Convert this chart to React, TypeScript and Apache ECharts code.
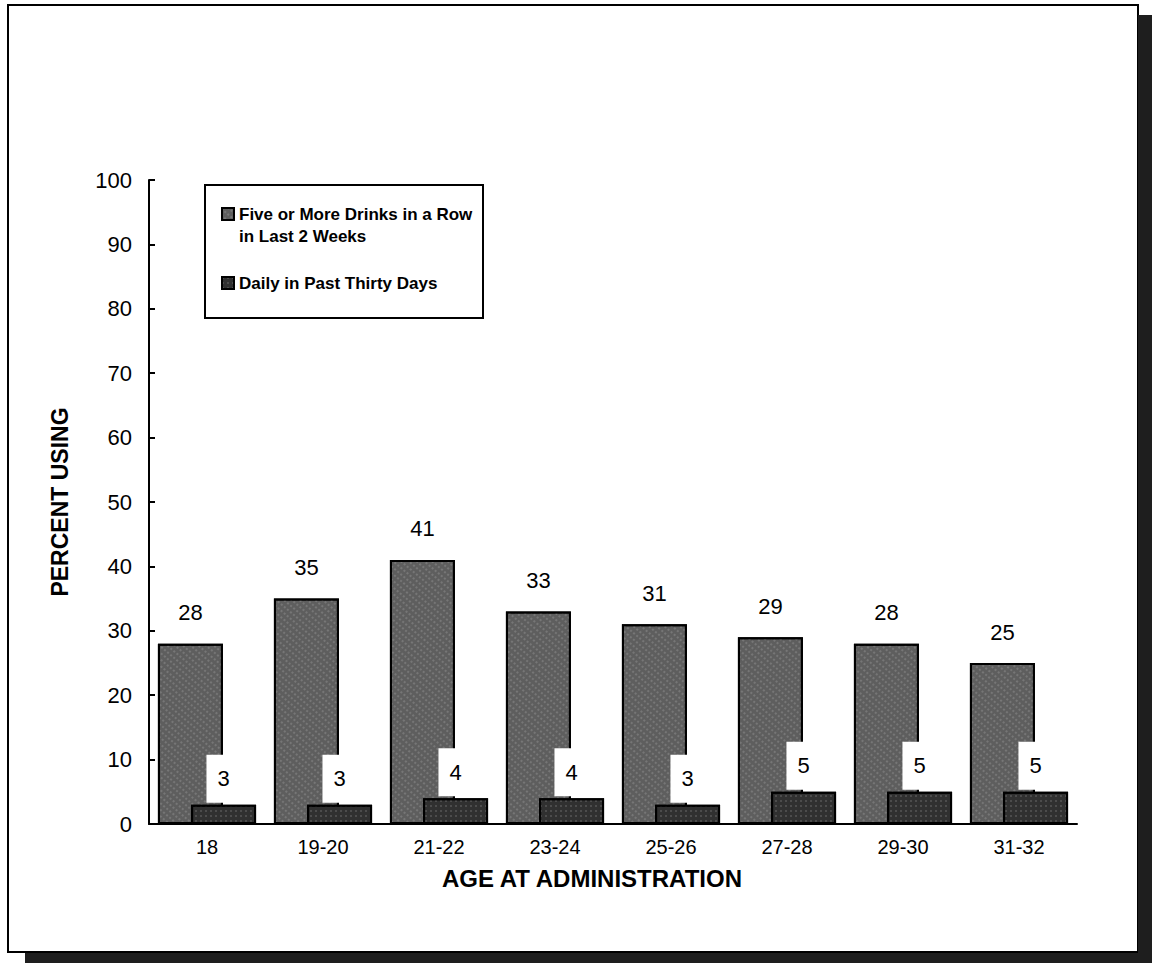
import React, { useEffect, useRef } from "react";
import * as echarts from "echarts";

const categories = ["18", "19-20", "21-22", "23-24", "25-26", "27-28", "29-30", "31-32"];
const fiveOrMore = [28, 35, 41, 33, 31, 29, 28, 25];
const dailyUse = [3, 3, 4, 4, 3, 5, 5, 5];
const seriesNames = ["Five or More Drinks in a Row", "Daily in Past Thirty Days"];
const legendContinuation = "in Last 2 Weeks";
const yTicks = { min: 0, max: 100, interval: 10 };

export default function App() {
  const ref = useRef<HTMLDivElement>(null);
  useEffect(() => {
    if (!ref.current) return;
    const chart = echarts.init(ref.current, null, { renderer: "svg" });
    const font = "Arial, 'Liberation Sans', sans-serif";
    chart.setOption({
      animation: false,
      backgroundColor: "#ffffff",
      textStyle: { fontFamily: font, color: "#000" },
      grid: { left: 149, right: 75, top: 180, bottom: 139, containLabel: false },
      legend: {
        left: 216,
        top: 198,
        orient: "vertical",
        itemWidth: 12,
        itemHeight: 12,
        itemGap: 47,
        icon: "rect",
        textStyle: { fontFamily: font, fontWeight: "bold", fontSize: 17, color: "#000", lineHeight: 22 },
        data: seriesNames,
      },
      xAxis: {
        type: "category",
        data: categories,
        axisLine: { lineStyle: { color: "#000", width: 2 } },
        axisTick: { show: false },
        axisLabel: {
          color: "#000",
          fontSize: 20,
          fontFamily: font,
          margin: 13,
        },
      },
      yAxis: {
        type: "value",
        min: yTicks.min,
        max: yTicks.max,
        interval: yTicks.interval,
        name: "PERCENT USING",
        nameLocation: "middle",
        nameGap: 78,
        nameTextStyle: { fontFamily: font, fontWeight: "bold", fontSize: 23, color: "#000" },
        axisLine: { show: true, lineStyle: { color: "#000", width: 2 } },
        axisTick: { show: true, inside: true, length: 6, lineStyle: { color: "#000", width: 2 } },
        splitLine: { show: false },
        axisLabel: { color: "#000", fontSize: 22, fontFamily: font, margin: 17 },
      },
      series: [
        {
          name: seriesNames[0],
          type: "bar",
          data: fiveOrMore,
          barWidth: 65,
          barGap: "-49%",
          itemStyle: {
            color: "#5e5e5e",
            borderColor: "#000",
            borderWidth: 2,
            decal: {
              symbol: "rect",
              symbolSize: 0.6,
              color: "rgba(255,255,255,0.5)",
              dashArrayX: [2, 2],
              dashArrayY: [2, 3],
              rotation: 0.7,
            },
          },
          label: {
            show: true,
            position: "top",
            distance: 20,
            fontSize: 22,
            fontFamily: font,
            color: "#000",
          },
        },
        {
          name: seriesNames[1],
          type: "bar",
          data: dailyUse,
          barWidth: 65,
          itemStyle: {
            color: "#303030",
            borderColor: "#000",
            borderWidth: 2,
            decal: {
              symbol: "rect",
              symbolSize: 0.6,
              color: "rgba(255,255,255,0.45)",
              dashArrayX: [2, 3],
              dashArrayY: [2, 3],
              rotation: 0,
            },
          },
          label: {
            show: true,
            position: "top",
            distance: 2,
            fontSize: 22,
            fontFamily: font,
            color: "#000",
            backgroundColor: "#ffffff",
            padding: [13, 11, 13, 11],
          },
        },
      ],
      graphic: [
        { type: "rect", shape: { x: 8, y: 5, width: 1130, height: 947 }, style: { fill: "none", stroke: "#000", lineWidth: 2 }, z: 10 },
        { type: "rect", shape: { x: 1138, y: 15, width: 14, height: 948 }, style: { fill: "#1e1e1e" }, z: 10 },
        { type: "rect", shape: { x: 25, y: 953, width: 1127, height: 10 }, style: { fill: "#1e1e1e" }, z: 10 },
        { type: "rect", shape: { x: 205, y: 185, width: 278, height: 133 }, style: { fill: "none", stroke: "#000", lineWidth: 2 }, z: 10 },
        {
          type: "text",
          x: 239,
          y: 236,
          style: { text: legendContinuation, font: `bold 17px ${font}`, fill: "#000", textAlign: "left", textVerticalAlign: "middle" },
          z: 10,
        },
        {
          type: "text",
          x: 592,
          y: 878,
          style: { text: "AGE AT ADMINISTRATION", font: `bold 24px ${font}`, fill: "#000", textAlign: "center", textVerticalAlign: "middle" },
          z: 10,
        },
      ],
    });
    return () => chart.dispose();
  }, []);
  return <div ref={ref} style={{ position: "fixed", left: 0, top: 0, width: 1152, height: 963 }} />;
}
